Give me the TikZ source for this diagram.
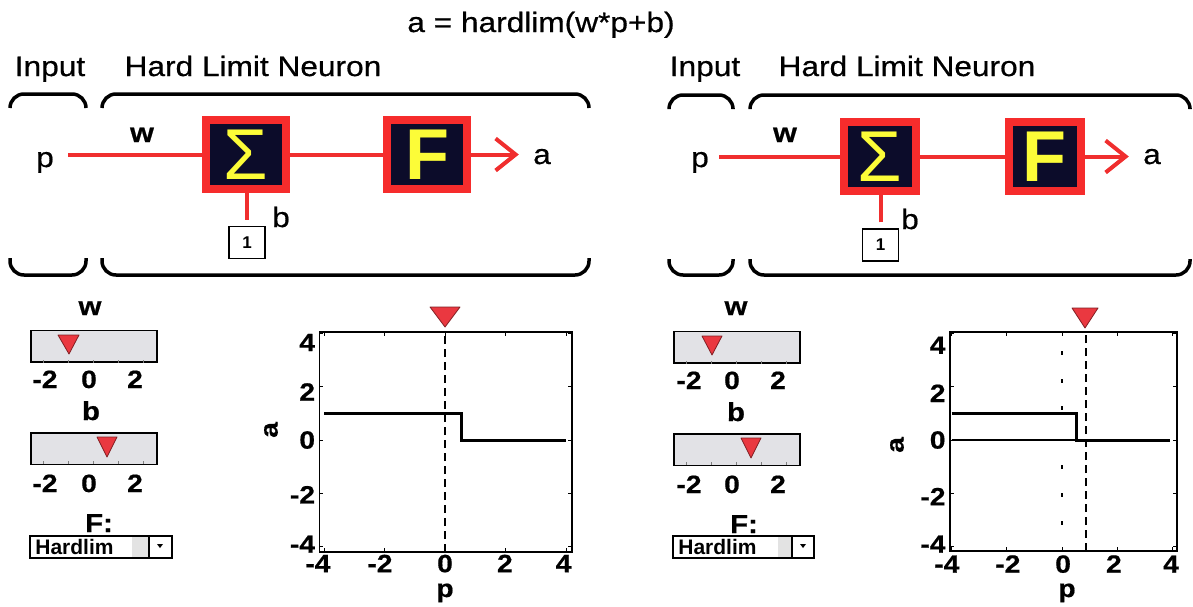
\documentclass[tikz,border=0pt]{standalone}
\usepackage{fontspec}
\setmainfont{Liberation Sans}
\newfontfamily\widefont{Liberation Sans}[FakeStretch=1.13, FakeBold=0.6]
\usepackage{xcolor}
\usetikzlibrary{arrows.meta,positioning,calc}

\definecolor{wirered}{RGB}{240,46,46}
\definecolor{boxred}{RGB}{246,44,44}
\definecolor{boxnavy}{RGB}{12,12,42}
\definecolor{glyphyellow}{RGB}{252,252,56}
\definecolor{slidergray}{RGB}{226,226,230}
\definecolor{markred}{RGB}{234,56,64}

\begin{document}
\begin{tikzpicture}[x=0.5pt, y=-0.5pt,
    wire/.style={wirered, line width=2pt},
    block/.style={draw=boxred, line width=4pt, fill=boxnavy, inner sep=0pt,
      minimum width=40pt, minimum height=34.5pt, text=glyphyellow,
      font=\fontsize{36}{40}\selectfont},
    hook/.style={line width=1.75pt, rounded corners=7pt},
    heading/.style={font=\widefont\fontsize{14}{16}\selectfont, anchor=base, inner sep=0pt},
    sig/.style={font=\widefont\fontsize{14}{16}\selectfont, anchor=base, inner sep=0pt},
    unitbox/.style={draw, line width=0.75pt, minimum width=18pt, minimum height=16pt,
      inner sep=0pt, font=\bfseries\fontsize{8.5}{9}\selectfont},
    num/.style={font=\widefont\bfseries\fontsize{12.5}{14}\selectfont, anchor=base, inner sep=0pt},
    slider/.style={draw, line width=0.75pt, fill=slidergray, minimum width=63pt,
      minimum height=15.75pt, inner sep=0pt},
    marker/.style={fill=markred, draw=markred!55!black, line width=0.4pt, line join=round},
    stepfn/.style={line width=1.5pt},
    cursor/.style={line width=0.6pt, dash pattern=on 4pt off 2.5pt}
  ]
  \path[fill=white, use as bounding box] (0,0) rectangle (1193,606);

  % Title
  \node[heading] (title) at (541,32) {a = hardlim(w*p+b)};

  % ---------------- left neuron ----------------
  \node[heading] (inputL) at (50,76) {Input};
  \node[heading] (neuronL) at (253,76) {Hard Limit Neuron};

  % Brackets
  \draw[hook] (10,108) -- (10,94) -- (86,94) -- (86,108);
  \draw[hook] (10,258) -- (10,275) -- (86,275) -- (86,258);
  \draw[hook] (102,108) -- (102,94) -- (589,94) -- (589,108);
  \draw[hook] (102,258) -- (102,275) -- (589,275) -- (589,258);

  % Blocks
  \node[block] (sumL) at (246,154.5) {Σ};
  \node[block, font=\bfseries\fontsize{36}{40}\selectfont] (actL) at (427,154.5) {F};

  % Signals
  \node[sig] (pL) at (45,167) {p};
  \node[sig, font=\widefont\bfseries\fontsize{13.5}{16}\selectfont] (wL) at (142,142) {w};
  \node[sig] (aL) at (542,164) {a};
  \node[sig] (bL) at (281,227) {b};
  \node[unitbox] (oneL) at (247,242.5) {1};

  \draw[wire, shorten <=7pt] (pL.east |- sumL) -- (sumL);
  \draw[wire] (sumL) -- (actL);
  \draw[wire, -{Straight Barb[length=10pt,width=16pt]}, shorten >=7pt] (actL) -- (actL -| aL.west);
  \draw[wire, shorten <=3pt] (oneL.north) -- (oneL.north |- sumL.south);

  % ---------------- right neuron ----------------
  \node[heading] (inputR) at (705,76) {Input};
  \node[heading] (neuronR) at (907,76) {Hard Limit Neuron};

  % Brackets
  \draw[hook] (669,108) -- (669,95) -- (733,95) -- (733,108);
  \draw[hook] (669,259) -- (669,275) -- (733,275) -- (733,259);
  \draw[hook] (750,108) -- (750,95) -- (1190,95) -- (1190,108);
  \draw[hook] (750,259) -- (750,275) -- (1190,275) -- (1190,259);

  % Blocks
  \node[block, minimum width=36pt] (sumR) at (880,156.5) {Σ};
  \node[block, minimum width=36pt, font=\bfseries\fontsize{36}{40}\selectfont] (actR) at (1044.5,156.5) {F};

  % Signals
  \node[sig] (pR) at (700,167) {p};
  \node[sig, font=\widefont\bfseries\fontsize{13.5}{16}\selectfont] (wR) at (785,142) {w};
  \node[sig] (aR) at (1152,164) {a};
  \node[sig] (bR) at (910,229) {b};
  \node[unitbox] (oneR) at (880.5,245) {1};

  \draw[wire, shorten <=5pt] (pR.east |- sumR) -- (sumR);
  \draw[wire] (sumR) -- (actR);
  \draw[wire, -{Straight Barb[length=10pt,width=16pt]}, shorten >=7pt] (actR) -- (actR -| aR.west);
  \draw[wire, shorten <=3pt] (oneR.north) -- (oneR.north |- sumR.south);

  % ---------------- left controls ----------------
  \node[num, font=\widefont\bfseries\fontsize{13}{15}\selectfont] (wlabL) at (90,315) {w};
  \node[slider] (wbarL) at (94,346) {};
  \foreach \x in {43,68,93,118,143}
    \draw[gray, line width=0.5pt] (\x,363) -- ++(0,-3);
  \draw[marker] (58,335) -- (79,335) -- (69,354) -- cycle;
  \node[num] (wm2L) at (45,388) {-2};
  \node[num] (w0L) at (89,388) {0};
  \node[num] (w2L) at (135,388) {2};

  \node[num, font=\widefont\bfseries\fontsize{13}{15}\selectfont] (blabL) at (91,420) {b};
  \node[slider] (bbarL) at (94,448.5) {};
  \foreach \x in {43,68,93,118,143}
    \draw[gray, line width=0.5pt] (\x,464) -- ++(0,-3);
  \draw[marker] (97,437) -- (117,437) -- (107,457) -- cycle;
  \node[num] (bm2L) at (45,492) {-2};
  \node[num] (b0L) at (89,492) {0};
  \node[num] (b2L) at (135,492) {2};

  \node[num, font=\widefont\bfseries\fontsize{13}{15}\selectfont] (flabL) at (99,532) {F:};
  \fill[gray!22] (132,537) rectangle (149,557);
  \draw[line width=0.75pt] (30,536) rectangle (172,558);
  \draw[line width=0.6pt] (149,536) -- (149,558);
  \fill (157,544) -- (163,544) -- (160,548) -- cycle;
  \node[anchor=west, inner sep=0pt, font=\bfseries\fontsize{10.5}{12}\selectfont] (menuL) at (35,547) {Hardlim};

  % ---------------- right controls ----------------
  \node[num, font=\widefont\bfseries\fontsize{13}{15}\selectfont] (wlabR) at (736,315) {w};
  \node[slider] (wbarR) at (737,347) {};
  \foreach \x in {686,711,736,761,786}
    \draw[gray, line width=0.5pt] (\x,364) -- ++(0,-3);
  \draw[marker] (702,336) -- (722,336) -- (712,355) -- cycle;
  \node[num] (wm2R) at (689,389) {-2};
  \node[num] (w0R) at (732,389) {0};
  \node[num] (w2R) at (778,389) {2};

  \node[num, font=\widefont\bfseries\fontsize{13}{15}\selectfont] (blabR) at (736,421) {b};
  \node[slider] (bbarR) at (737,449.5) {};
  \foreach \x in {686,711,736,761,786}
    \draw[gray, line width=0.5pt] (\x,465) -- ++(0,-3);
  \draw[marker] (741,438) -- (761,438) -- (751,458) -- cycle;
  \node[num] (bm2R) at (689,493) {-2};
  \node[num] (b0R) at (732,493) {0};
  \node[num] (b2R) at (778,493) {2};

  \node[num, font=\widefont\bfseries\fontsize{13}{15}\selectfont] (flabR) at (744,533) {F:};
  \fill[gray!22] (778,537) rectangle (792,557);
  \draw[line width=0.75pt] (673,536) rectangle (814,558);
  \draw[line width=0.6pt] (792,536) -- (792,558);
  \fill (800,544) -- (806,544) -- (803,548) -- cycle;
  \node[anchor=west, inner sep=0pt, font=\bfseries\fontsize{10.5}{12}\selectfont] (menuR) at (678,547) {Hardlim};

  % ---------------- left plot ----------------
  \draw[marker] (430,307) -- (460,307) -- (445,327) -- cycle;
  \node[num, rotate=90, anchor=center] (alabL) at (271,430) {a};
  \node[num] (plabL) at (445,597) {p};
  \begin{scope}[shift={(445,440)}, x=15.125pt, y=13.35pt]
    \draw[line width=0.75pt] (-4.15,-4.2) rectangle (4.2,4.05);
    \foreach \t in {-4,-2,...,4} {
      \draw[line width=0.5pt] (\t,-4.2) -- ++(0,2pt) (\t,4.05) -- ++(0,-2pt);
      \draw[line width=0.5pt] (-4.15,\t) -- ++(2pt,0) (4.2,\t) -- ++(-2pt,0);
    }
    \foreach \t/\x in {-4/-4.2, -2/-2.15, 0/0, 2/1.98, 4/3.92}
      \node[num] (pxL\t) at (\x,-4.95) {\t};
    \foreach \t/\y in {4/3.65, 2/1.8, 0/0, -2/-2.05, -4/-3.9}
      \node[num, anchor=east, xshift=-2pt] (pyL\t) at (-4.15,\y) {\t};
    % decision line
    \draw[cursor] (0,-4.2) -- (0,4.05);
    % hard limit output
    \draw[stepfn] (-4,1) -- (0.56,1) -- (0.56,0) -- (4,0);
  \end{scope}

  % ---------------- right plot ----------------
  \draw[marker] (1072,308) -- (1098,308) -- (1085,328) -- cycle;
  \node[num, rotate=90, anchor=center] (alabR) at (897,445) {a};
  \node[num] (plabR) at (1067,597) {p};
  \begin{scope}[shift={(1062,440)}, x=13.8pt, y=13.35pt]
    \draw[line width=0.75pt] (-4.06,-4.16) rectangle (4.17,4.04);
    \foreach \t in {-4,-2,...,4} {
      \draw[line width=0.5pt] (\t,-4.16) -- ++(0,2pt) (\t,4.04) -- ++(0,-2pt);
      \draw[line width=0.5pt] (-4.06,\t) -- ++(2pt,0) (4.17,\t) -- ++(-2pt,0);
    }
    \foreach \t/\x in {-4/-4.17, -2/-1.96, 0/0.04, 2/1.88, 4/3.95}
      \node[num] (pxR\t) at (\x,-4.97) {\t};
    \foreach \t/\y in {4/3.55, 2/1.75, 0/0, -2/-2.12, -4/-3.9}
      \node[num, anchor=east, xshift=-2pt] (pyR\t) at (-4.06,\y) {\t};
    % previous boundary, dotted
    \foreach \y in {3.25,2.2,1.2,-1.0,-2.05,-3.1}
      \fill (0,\y) ++(-0.7pt,-1pt) rectangle ++(1.4pt,2pt);
    % decision line
    \draw[cursor] (0.87,-4.16) -- (0.87,4.04);
    % hard limit output
    \draw[line width=0.6pt] (-4,0) -- (0.54,0);
    \draw[stepfn] (-4,1) -- (0.54,1) -- (0.54,0) -- (3.9,0);
  \end{scope}
\end{tikzpicture}
\end{document}
